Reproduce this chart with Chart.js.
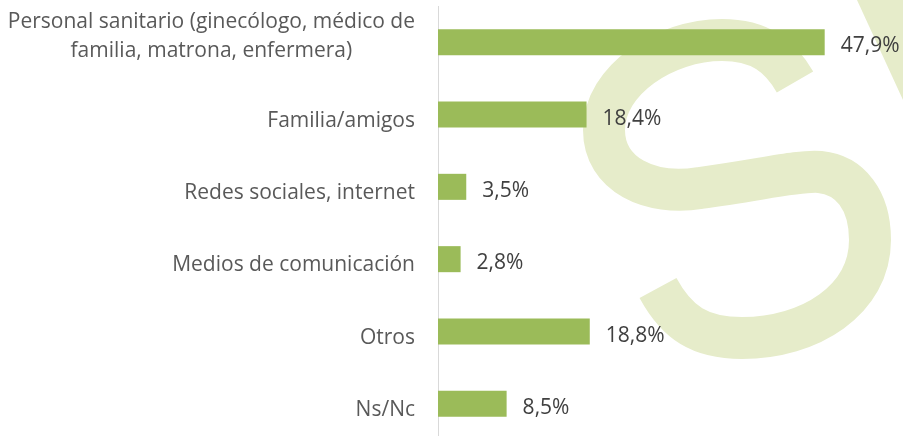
<!DOCTYPE html>
<html>
<head>
<meta charset="utf-8">
<script src="https://cdn.jsdelivr.net/npm/chart.js@4"></script>
<style>
  html, body { margin: 0; padding: 0; background: #fff; overflow: hidden; }
  #wrap { width: 903px; height: 440px; }
</style>
</head>
<body>
<div id="wrap"><canvas id="chart"></canvas></div>
<script>
// datos
const categories = [
    ['Personal sanitario (ginecólogo, médico de', 'familia, matrona, enfermera)'],
    'Familia/amigos',
    'Redes sociales, internet',
    'Medios de comunicación',
    'Otros',
    'Ns/Nc'
];
const values = [47.9, 18.4, 3.5, 2.8, 18.8, 8.5];
const valueLabels = values.map(v => v.toFixed(1).replace('.', ',') + '%');

const FONT = '21px "Open Sans"';

// marca de agua (S verde claro)
const watermark = {
    id: 'watermark',
    beforeDraw(chart) {
        const ctx = chart.ctx;
        ctx.save();
        ctx.strokeStyle = '#e6ecca';
        ctx.fillStyle = '#e6ecca';
        ctx.lineWidth = 42;
        ctx.lineCap = 'butt';
        ctx.beginPath();
        ctx.moveTo(795, 82);
        ctx.bezierCurveTo(780, 56, 760, 40, 722, 40);
        ctx.bezierCurveTo(665, 40, 604, 80, 604, 130);
        ctx.bezierCurveTo(604, 175, 650, 196, 700, 188);
        ctx.bezierCurveTo(760, 180, 800, 170, 820, 172);
        ctx.bezierCurveTo(850, 175, 870, 200, 870, 240);
        ctx.bezierCurveTo(870, 300, 810, 338, 742, 338);
        ctx.bezierCurveTo(700, 338, 677, 323, 658, 288);
        ctx.stroke();
        ctx.beginPath();
        ctx.moveTo(857, 0);
        ctx.lineTo(903, 100);
        ctx.lineTo(903, 0);
        ctx.closePath();
        ctx.fill();
        ctx.restore();
    }
};

// etiquetas del eje y y valores
const labelsPlugin = {
    id: 'labels',
    afterDatasetsDraw(chart) {
        const ctx = chart.ctx;
        const yScale = chart.scales.y;
        ctx.save();
        ctx.font = FONT;
        ctx.textBaseline = 'alphabetic';

        categories.forEach((cat, i) => {
            const lines = Array.isArray(cat) ? cat : [cat];
            const y = yScale.getPixelForTick(i);
            const maxW = Math.max(...lines.map(l => ctx.measureText(l).width));
            const cx = 415 - maxW / 2;
            ctx.fillStyle = '#595959';
            ctx.textAlign = 'center';
            lines.forEach((l, j) => {
                const by = lines.length > 1 ? y + 0.5 + (j - (lines.length - 1) / 2) * 29 : y + 12;
                ctx.fillText(l, cx, by);
            });
        });

        const meta = chart.getDatasetMeta(0);
        ctx.fillStyle = '#404040';
        ctx.textAlign = 'left';
        meta.data.forEach((bar, i) => {
            ctx.fillText(valueLabels[i], bar.x + 16, bar.y + 10);
        });
        ctx.restore();
    }
};

new Chart(document.getElementById('chart'), {
    type: 'bar',
    data: {
        labels: categories,
        datasets: [{
            data: values,
            backgroundColor: '#9bbb59',
            borderWidth: 0,
            categoryPercentage: 1,
            barPercentage: 0.36
        }]
    },
    options: {
        indexAxis: 'y',
        responsive: true,
        maintainAspectRatio: false,
        animation: false,
        layout: { padding: { top: 6, right: 0, bottom: 0, left: 0 } },
        plugins: {
            legend: { display: false },
            tooltip: { enabled: false }
        },
        scales: {
            x: {
                display: false,
                min: 0,
                max: 57.6
            },
            y: {
                grid: { display: false },
                border: { display: true, color: '#d9d9d9', width: 1 },
                ticks: { display: false },
                afterFit(scale) { scale.width = 438; }
            }
        }
    },
    plugins: [watermark, labelsPlugin]
});
</script>
</body>
</html>
